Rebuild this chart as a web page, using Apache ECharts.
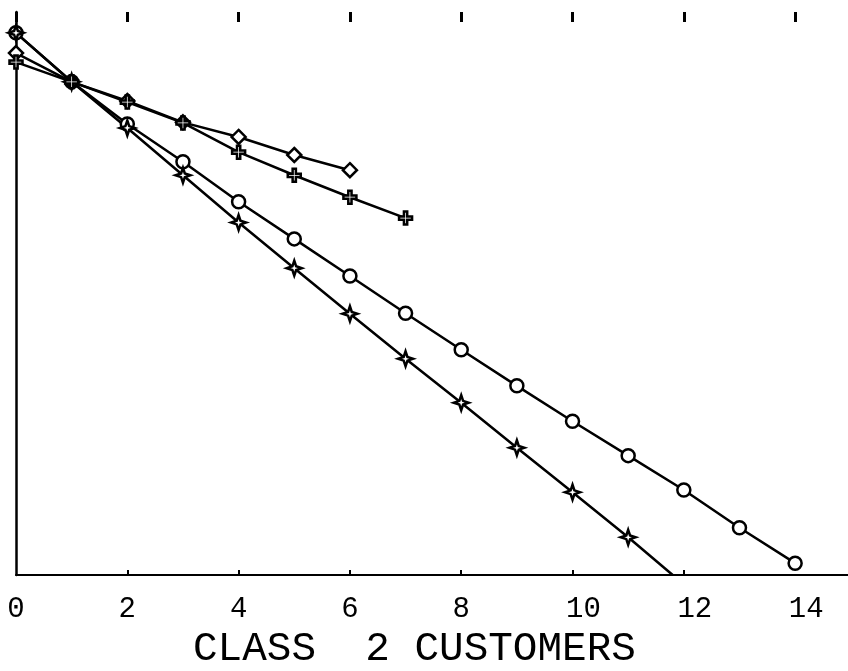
<!DOCTYPE html>
<html>
<head>
<meta charset="utf-8">
<script src="https://cdn.jsdelivr.net/npm/echarts@6/dist/echarts.min.js"></script>
<style>
  html, body { margin: 0; padding: 0; background: #fff; }
  #chart { width: 848px; height: 671px; }
</style>
</head>
<body>
<div id="chart"></div>
<script>
// Class 2 customers on the x axis, four curves
const xTicks = [0, 2, 4, 6, 8, 10, 12, 14];

const circleX = [0, 1, 2, 3, 4, 5, 6, 7, 8, 9, 10, 11, 12, 13, 14];
const circleY = [96.3, 87.6, 80.1, 73.4, 66.3, 59.7, 53.1, 46.5, 40.0, 33.6, 27.3, 21.2, 15.1, 8.4, 2.1];

const crossX = [0, 1, 2, 3, 4, 5, 6, 7, 8, 9, 10, 11, 11.8];
const crossY = [96.3, 87.6, 79.4, 71.0, 62.6, 54.5, 46.4, 38.4, 30.6, 22.6, 14.7, 6.7, 0];

const diamondX = [0, 1, 2, 3, 4, 5, 6];
const diamondY = [92.7, 87.6, 84.2, 80.4, 77.8, 74.6, 71.9];

const plusX = [0, 1, 2, 3, 4, 5, 6, 7];
const plusY = [91.1, 87.6, 84.0, 80.3, 75.1, 71.0, 67.1, 63.4];

const pairs = (xs, ys) => xs.map((x, i) => [x, ys[i]]);

const FONT = '"Liberation Mono", "DejaVu Sans Mono", monospace';
const starPath = 'path://M0,-10 L2.5,-2.5 L10,0 L2.5,2.5 L0,10 L-2.5,2.5 L-10,0 L-2.5,-2.5 Z';
const plusPath = 'path://M-2.5,-10 L2.5,-10 L2.5,-2.5 L10,-2.5 L10,2.5 L2.5,2.5 L2.5,10 L-2.5,10 L-2.5,2.5 L-10,2.5 L-10,-2.5 L-2.5,-2.5 Z';

function lineSeries(data, symbol, size) {
  return {
    type: 'line',
    data: data,
    symbol: symbol,
    symbolSize: size,
    showAllSymbol: true,
    lineStyle: { color: '#000', width: 2.5 },
    itemStyle: { color: '#fff', borderColor: '#000', borderWidth: 2.5 },
    emphasis: { disabled: true },
    animation: false
  };
}

const crossSeries = lineSeries(pairs(crossX, crossY), starPath, 15);
// the last point only marks where the curve meets the axis
crossSeries.data = crossSeries.data.map((p, i) =>
  i === crossX.length - 1 ? { value: p, symbol: 'none' } : p);

const chart = echarts.init(document.getElementById('chart'), null, { renderer: 'canvas' });
chart.setOption({
  backgroundColor: '#fff',
  animation: false,
  title: {
    text: 'CLASS  2 CUSTOMERS',
    left: 188,
    top: 624,
    textStyle: { fontFamily: FONT, fontSize: 41, fontWeight: 'normal', color: '#000' }
  },
  grid: { left: 16, right: 0, top: 12, bottom: 96 },
  xAxis: [
    {
      type: 'value', position: 'bottom', min: 0, max: 14.95,
      axisLine: { show: true, lineStyle: { color: '#000', width: 2 } },
      axisTick: { show: true, inside: true, length: 5, customValues: [2, 4, 6, 8, 10, 12],
                  lineStyle: { color: '#000', width: 2 } },
      splitLine: { show: false },
      axisLabel: {
        customValues: xTicks,
        margin: 20,
        color: '#000',
        fontFamily: FONT,
        fontSize: 29,
        formatter: v => (v >= 10 ? '{w|' + v + '}' : '{n|' + v + '}'),
        rich: {
          n: { fontFamily: FONT, fontSize: 29, color: '#000' },
          w: { fontFamily: FONT, fontSize: 29, color: '#000', padding: [0, 0, 0, 22] }
        }
      }
    },
    {
      type: 'value', position: 'top', min: 0, max: 14.95,
      axisLine: { show: false },
      axisTick: { show: true, inside: true, length: 10, customValues: xTicks,
                  lineStyle: { color: '#000', width: 3 } },
      axisLabel: { show: false },
      splitLine: { show: false }
    }
  ],
  yAxis: {
    type: 'value', min: 0, max: 100,
    axisLine: { show: true, lineStyle: { color: '#000', width: 2.5 } },
    axisTick: { show: false },
    axisLabel: { show: false },
    splitLine: { show: false }
  },
  series: [
    lineSeries(pairs(circleX, circleY), 'circle', 13),
    crossSeries,
    lineSeries(pairs(diamondX, diamondY), 'diamond', 14),
    lineSeries(pairs(plusX, plusY), plusPath, 13)
  ]
});
</script>
</body>
</html>
